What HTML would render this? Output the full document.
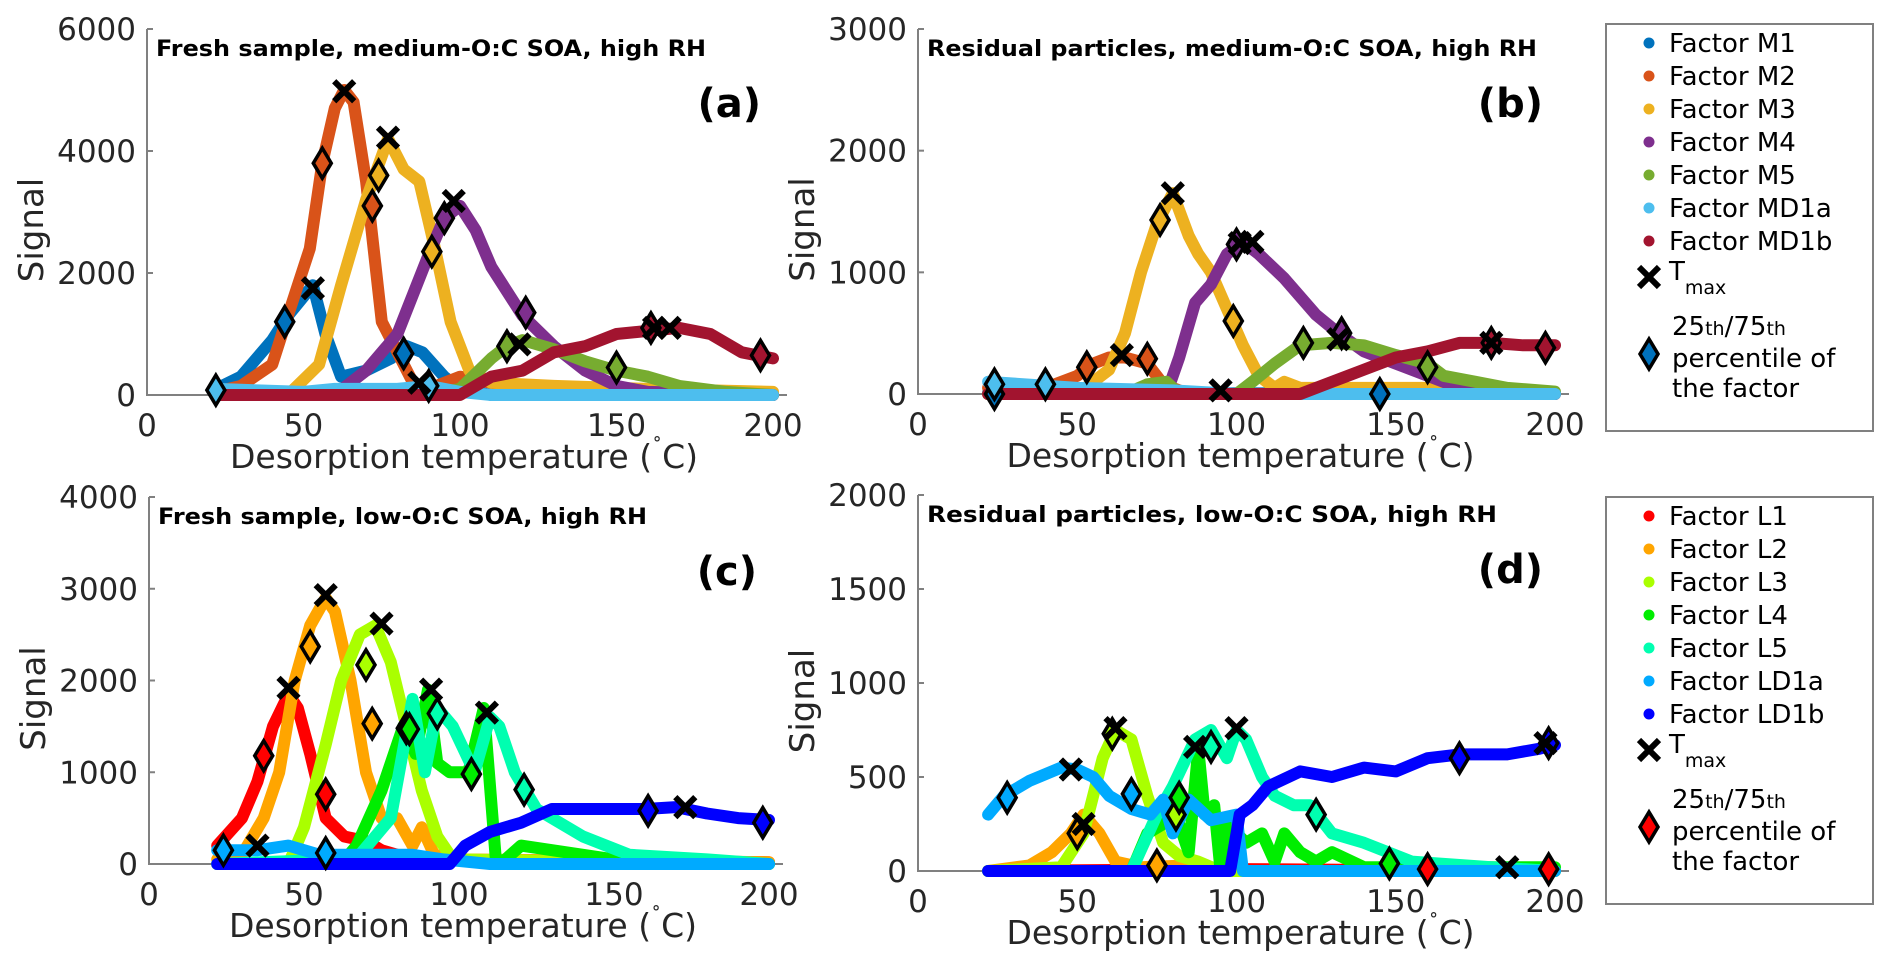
<!DOCTYPE html>
<html><head><meta charset="utf-8"><style>
html,body{margin:0;padding:0;background:#fff;}
svg{display:block;font-family:"DejaVu Sans","Liberation Sans",sans-serif;}
</style></head><body>
<svg id="fig" width="1892" height="972" viewBox="0 0 1892 972" xmlns="http://www.w3.org/2000/svg"></svg>
<script>
// ---------- DATA ----------
const xTicks = [0, 50, 100, 150, 200];
const yTicksA = [0, 2000, 4000, 6000];
const yTicksB = [0, 1000, 2000, 3000];
const yTicksC = [0, 1000, 2000, 3000, 4000];
const yTicksD = [0, 500, 1000, 1500, 2000];

const namesM = ["Factor M1","Factor M2","Factor M3","Factor M4","Factor M5","Factor MD1a","Factor MD1b"];
const colorsM = ["#0072BD","#D95319","#EDB120","#7E2F8E","#77AC30","#4DBEEE","#A2142F"];
const namesL = ["Factor L1","Factor L2","Factor L3","Factor L4","Factor L5","Factor LD1a","Factor LD1b"];
const colorsL = ["#FF0000","#FFA500","#AAFF00","#00EE00","#00FFB0","#00AAFF","#0000FF"];

// panel a
const aT = [
 [22,30,40,45,53,57,62,70,78,83,88,95,100,110,200],
 [22,30,40,45,52,56,60,63,66,70,75,80,85,90,100,110,130,200],
 [22,45,55,62,70,77,82,87,92,97,103,110,130,160,200],
 [22,60,70,80,90,95,100,105,110,120,130,140,150,160,200],
 [22,90,100,110,115,120,130,140,150,160,170,185,200],
 [22,50,60,80,90,100,110,200],
 [22,100,110,120,130,140,150,160,170,180,190,200]];
const aV = [
 [100,300,900,1300,1800,1000,300,400,600,800,700,300,100,0,0],
 [50,150,500,1300,2400,3800,4700,5000,4800,3500,1200,700,200,100,300,200,50,0],
 [0,0,500,1800,3200,4200,3700,3500,2400,1200,400,200,150,100,50],
 [0,0,400,1000,2300,2900,3100,2700,2100,1300,800,400,150,50,0],
 [0,0,100,600,800,900,750,550,400,300,150,50,0],
 [100,50,100,100,150,50,0,0],
 [0,0,300,400,700,800,1000,1050,1100,1000,700,600]];
const aTmaxT = [53,63,77,98,87,119,162,167];
const aTmaxV = [1750,4980,4220,3180,200,830,1100,1100];
const aPctT = [44,82,56,72,74,91,95,121,115,150,22,90,161,196];
const aPctV = [1200,680,3800,3100,3600,2350,2900,1350,800,450,80,150,1100,650];
const aPctF = [0,0,1,1,2,2,3,3,4,4,5,5,6,6];

// panel b
const bT = [
 [22,200],
 [22,40,50,55,60,65,72,77,85,200],
 [22,50,60,65,70,75,80,85,88,92,97,102,107,112,115,120,150,170,200],
 [22,78,82,87,92,97,102,107,115,125,132,140,150,160,170,180,200],
 [22,65,72,78,82,100,105,112,120,130,140,150,160,165,175,185,200],
 [22,50,80,100,200],
 [22,120,130,140,150,160,170,180,190,200]];
const bV = [
 [10,0],
 [50,50,150,250,300,300,250,80,0,0],
 [0,0,200,500,1000,1400,1650,1300,1150,1000,700,400,150,50,100,50,50,50,0],
 [0,0,300,750,900,1150,1250,1150,950,650,500,350,250,150,50,0,0],
 [0,0,80,100,0,0,100,250,400,420,400,320,250,150,100,50,20],
 [100,50,30,0,0],
 [0,0,100,200,300,350,420,420,400,400]];
const bTmaxT = [64,80,95,101,105,132,180];
const bTmaxV = [320,1650,30,1240,1250,450,420];
const bPctT = [24,145,53,72,76,99,100,133,121,160,24,40,180,197];
const bPctV = [0,0,220,290,1430,600,1230,500,420,220,80,80,420,380];
const bPctF = [0,0,1,1,2,2,3,3,4,4,5,5,6,6];

// panel c
const cT = [
 [22,30,35,40,45,48,52,57,63,70,75,80,90,200],
 [22,30,37,42,47,52,57,60,65,70,75,80,85,88,92,100,200],
 [22,45,50,57,62,68,73,78,83,88,93,98,200],
 [22,62,67,75,82,86,90,93,97,103,108,112,115,120,130,150,200],
 [22,60,68,78,85,89,93,98,105,110,113,118,125,140,155,180,200],
 [22,35,45,55,65,75,85,95,110,200],
 [22,97,102,110,120,130,140,150,160,170,180,190,200]];
const cV = [
 [200,500,900,1500,1850,1700,1200,500,300,250,150,100,50,20],
 [50,100,500,1000,2000,2600,2900,2750,2000,1000,500,500,200,400,100,50,20],
 [0,0,400,1300,2000,2500,2600,2200,1500,800,300,50,0],
 [0,0,200,800,1500,1200,1900,1100,1000,1000,1700,0,50,200,150,50,0],
 [0,50,100,500,1800,1000,1700,1500,1000,1600,1500,1000,600,300,100,50,0],
 [150,150,200,100,100,100,100,50,0,0],
 [0,0,200,350,450,600,600,600,600,620,550,500,480]];
const cTmaxT = [35,45,57,75,91,109,173];
const cTmaxV = [200,1920,2930,2620,1900,1650,620];
const cPctT = [37,57,52,72,70,83,84,104,93,121,24,57,161,198];
const cPctV = [1180,760,2370,1530,2170,1480,1470,980,1640,810,150,120,580,450];
const cPctF = [0,0,1,1,2,2,3,3,4,4,5,5,6,6];

// panel d
const dT = [
 [22,100,200],
 [22,35,42,48,52,57,62,70,85,95,200],
 [22,45,52,58,62,67,72,77,82,88,95,200],
 [22,67,72,77,80,85,88,90,93,95,97,103,108,112,115,120,125,130,140,200],
 [22,67,75,80,87,92,97,100,103,108,112,118,123,130,140,155,180,200],
 [22,27,35,45,50,55,60,67,73,77,80,85,92,100,102,200],
 [22,98,101,105,110,120,130,140,150,160,170,185,195,200]];
const dV = [
 [0,10,0],
 [0,30,100,200,300,200,50,20,30,0,0],
 [0,20,200,600,750,700,400,150,80,50,0,0],
 [0,0,200,250,350,100,650,300,350,0,250,150,200,50,200,100,50,100,20,20],
 [0,0,300,450,700,750,600,750,700,500,400,350,350,200,150,50,20,0],
 [300,400,480,550,540,500,400,330,300,380,200,380,270,300,0,0],
 [0,0,300,350,450,530,500,550,530,600,620,620,650,670]];
const dTmaxT = [48,52,62,87,100,185,197];
const dTmaxV = [540,250,760,660,760,20,680];
const dPctT = [160,198,50,75,61,81,82,148,92,125,28,67,170,198];
const dPctV = [10,10,200,30,730,300,390,40,660,300,390,410,600,680];
const dPctF = [0,0,1,1,2,2,3,3,4,4,5,5,6,6];

// ---------- DRAWING ----------
const NS = "http://www.w3.org/2000/svg";
const svg = document.getElementById("fig");
function mk(tag, attrs, parent, txt) {
  const e = document.createElementNS(NS, tag);
  for (const k in attrs) e.setAttribute(k, attrs[k]);
  if (txt !== undefined) e.textContent = txt;
  (parent || svg).appendChild(e);
  return e;
}
function diamondPath(x, y) {
  return `M${x},${y-15} L${x+9},${y} L${x},${y+15} L${x-9},${y} Z`;
}
function drawX(g, x, y) {
  mk("path", {d:`M${x-10},${y-10} L${x+10},${y+10} M${x-10},${y+10} L${x+10},${y-10}`, stroke:"#000", "stroke-width":6, fill:"none"}, g);
}

function panel(id, box, yTicks, ymax, T, V, colors, names, tmT, tmV, pT, pV, pF, title, titleLen, letter) {
  const g = mk("g", {});
  
  
  const sx = t => box.x0 + (t / 200) * (box.x1 - box.x0);
  const sy = v => box.y0 - (v / ymax) * (box.y0 - box.y1);
  const ax = mk("path", {d:`M${box.x0},${box.y1} L${box.x0},${box.y0} L${box.x1+14},${box.y0}`, stroke:"#808080", "stroke-width":2, fill:"none"}, g);
  
  
  yTicks.forEach(v => {
    mk("line", {x1:box.x0, x2:box.x0+6, y1:sy(v), y2:sy(v), stroke:"#808080", "stroke-width":2}, g);
    const t = mk("text", {x:box.x0-11, y:sy(v)+11, "text-anchor":"end", "font-size":31, fill:"#262626"}, g, String(v));
    
    
  });
  xTicks.forEach(v => {
    const t = mk("text", {x:sx(v), y:box.y0+41, "text-anchor":"middle", "font-size":31, fill:"#262626"}, g, String(v));
    
    
  });
  const xl = mk("text", {x:(box.x0+box.x1)/2+4, y:box.y0+73, "text-anchor":"middle", "font-size":33, fill:"#262626"}, g);
  
  
  xl.innerHTML = 'Desorption temperature (<tspan dy="-14" font-size="20">˚</tspan><tspan dy="14">C)</tspan>';
  const yl = mk("text", {x:0, y:0, transform:`translate(${box.x0-104},${(box.y0+box.y1)/2+18}) rotate(-90)`, "text-anchor":"middle", "font-size":34, fill:"#262626"}, g, "Signal");
  
  
  T.forEach((ts, i) => {
    const pts = ts.map((t, j) => `${sx(t).toFixed(1)},${sy(V[i][j]).toFixed(1)}`).join(" ");
    const p = mk("polyline", {points:pts, fill:"none", stroke:colors[i], "stroke-width":12, "stroke-linejoin":"round", "stroke-linecap":"round"}, g);
    
    
  });
  pT.forEach((t, j) => {
    const d = mk("path", {d:diamondPath(sx(t), sy(pV[j])), fill:colors[pF[j]], stroke:"#000", "stroke-width":3.5}, g);
    
    
  });
  tmT.forEach((t, j) => {
    const xg = mk("g", {}, g);
    
    
    drawX(xg, sx(t), sy(tmV[j]));
  });
  const tt = mk("text", {x:box.x0+9, y:box.y1+27, "font-size":22, "font-weight":"bold", fill:"#000", textLength:titleLen, lengthAdjust:"spacingAndGlyphs"}, g, title);
  
  
  const lt = mk("text", {x:box.x1-12, y:box.y1+88, "text-anchor":"end", "font-size":40, "font-weight":"bold", fill:"#000"}, g, letter);
  
  
}

function legend(id, y0, names, colors, pctColor) {
  const g = mk("g", {});
  
  
  mk("rect", {x:1606, y:y0, width:267, height:407, fill:"#fff", stroke:"#808080", "stroke-width":2}, g);
  names.forEach((n, i) => {
    const by = y0 + 28 + i * 33;
    const e = mk("g", {}, g);
    
    
    mk("circle", {cx:1649, cy:by-9, r:5.5, fill:colors[i]}, e);
    mk("text", {x:1669, y:by, "font-size":26, fill:"#000"}, e, n);
  });
  const e2 = mk("g", {}, g);
  
  
  drawX(e2, 1649, y0 + 253);
  const tx = mk("text", {x:1669, y:y0 + 256, "font-size":26, fill:"#000"}, e2);
  tx.innerHTML = 'T<tspan dy="14" font-size="19">max</tspan>';
  const e3 = mk("g", {}, g);
  
  
  mk("path", {d:diamondPath(1649, y0 + 330), fill:pctColor, stroke:"#000", "stroke-width":3.5}, e3);
  const t1 = mk("text", {x:1672, y:y0 + 311, "font-size":26, fill:"#000"}, e3);
  t1.innerHTML = '25<tspan font-size="19">th</tspan>/75<tspan font-size="19">th</tspan>';
  mk("text", {x:1672, y:y0 + 343, "font-size":26, fill:"#000"}, e3, "percentile of");
  mk("text", {x:1672, y:y0 + 373, "font-size":26, fill:"#000"}, e3, "the factor");
}

panel("a", {x0:147, x1:773, y0:395, y1:29}, yTicksA, 6000, aT, aV, colorsM, namesM, aTmaxT, aTmaxV, aPctT, aPctV, aPctF, "Fresh sample, medium-O:C SOA, high RH", 550, "(a)");
panel("b", {x0:918, x1:1555, y0:394, y1:29}, yTicksB, 3000, bT, bV, colorsM, namesM, bTmaxT, bTmaxV, bPctT, bPctV, bPctF, "Residual particles, medium-O:C SOA, high RH", 610, "(b)");
panel("c", {x0:149, x1:769, y0:864, y1:497}, yTicksC, 4000, cT, cV, colorsL, namesL, cTmaxT, cTmaxV, cPctT, cPctV, cPctF, "Fresh sample, low-O:C SOA, high RH", 489, "(c)");
panel("d", {x0:918, x1:1555, y0:871, y1:495}, yTicksD, 2000, dT, dV, colorsL, namesL, dTmaxT, dTmaxV, dPctT, dPctV, dPctF, "Residual particles, low-O:C SOA, high RH", 570, "(d)");
legend("medium", 24, namesM, colorsM, "#0072BD");
legend("low", 497, namesL, colorsL, "#FF0000");
</script>
</body></html>
